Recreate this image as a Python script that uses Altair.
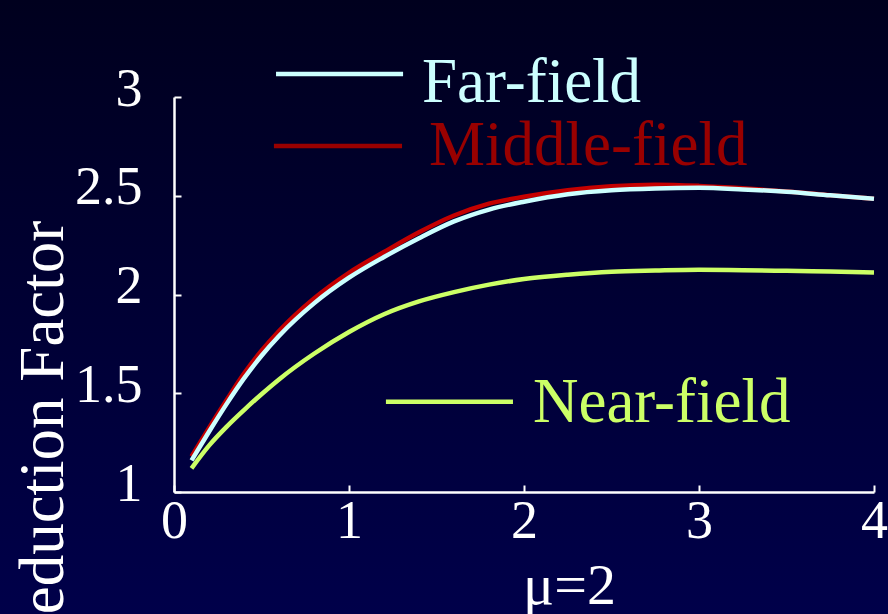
import altair as alt
import pandas as pd

# Reduction factor versus distance, mu = 2
MU = [0.1, 0.2, 0.3, 0.4, 0.5, 0.6, 0.8, 1.0, 1.2, 1.4, 1.6, 1.8, 2.0,
      2.25, 2.5, 2.75, 3.0, 3.25, 3.5, 3.75, 4.0]
FAR_FIELD = [1.16, 1.305, 1.445, 1.575, 1.69, 1.79, 1.955, 2.085, 2.19, 2.285,
             2.37, 2.43, 2.47, 2.508, 2.528, 2.537, 2.54, 2.532, 2.52, 2.502, 2.485]
MIDDLE_FIELD = [1.18, 1.325, 1.465, 1.60, 1.715, 1.815, 1.98, 2.11, 2.215, 2.315,
                2.40, 2.46, 2.495, 2.528, 2.548, 2.556, 2.55, 2.538, 2.522, 2.503, 2.485]
NEAR_FIELD = [1.12, 1.235, 1.33, 1.415, 1.495, 1.57, 1.70, 1.81, 1.90, 1.965,
              2.012, 2.05, 2.078, 2.10, 2.115, 2.121, 2.125, 2.123, 2.12, 2.116, 2.112]

SERIES = ["Far-field", "Middle-field", "Near-field"]
VALUES = {"Far-field": FAR_FIELD, "Middle-field": MIDDLE_FIELD, "Near-field": NEAR_FIELD}

# styling
CURVE_COLORS = {"Far-field": "#ccffff", "Middle-field": "#c40000", "Near-field": "#ccff66"}
KEY_COLORS = {"Far-field": "#ccffff", "Middle-field": "#990000", "Near-field": "#ccff66"}
DRAW_ORDER = ["Near-field", "Middle-field", "Far-field"]
SERIF = "Liberation Serif"

# key placement (in data units): stroke from x1 to x2 at y_line, label at (x_text, y_text)
KEY = {
    "Far-field":    dict(x1=0.583, x2=1.309, y_line=3.116, x_text=1.417, y_text=2.976),
    "Middle-field": dict(x1=0.571, x2=1.303, y_line=2.752, x_text=1.457, y_text=2.656),
    "Near-field":   dict(x1=1.211, x2=1.937, y_line=1.457, x_text=2.051, y_text=1.356),
}

curves = pd.DataFrame(
    [{"series": s, "mu": m, "factor": v, "hex": CURVE_COLORS[s]}
     for s in SERIES for m, v in zip(MU, VALUES[s])]
)
key = pd.DataFrame([{"series": s, "hex": KEY_COLORS[s], **KEY[s]} for s in SERIES])

x_scale = alt.Scale(domain=[0, 4], nice=False, zero=False)
y_scale = alt.Scale(domain=[1, 3], nice=False, zero=False)

x_axis = alt.Axis(
    title="μ=2",
    values=[0, 0.5, 1, 1.5, 2, 2.5, 3, 3.5, 4],
    labelExpr="datum.value % 1 === 0 ? datum.label : ''",
    format="d",
    grid=False, zindex=1,
    domainColor="white", domainWidth=2.5,
    tickColor="white", tickWidth=2, tickSize={"expr": "-7"},
    labelFont=SERIF, labelFontSize=54, labelColor="white",
    labelBaseline="alphabetic", labelPadding=52,
    labelFlush=False, labelOverlap=False, labelBound=False,
    titleFont=SERIF, titleFontSize=58, titleFontWeight="normal", titleColor="white",
    titleX=395, titleY=111, titleAlign="center", titleBaseline="alphabetic",
)
y_axis = alt.Axis(
    title="Reduction Factor",
    values=[1, 1.5, 2, 2.5, 3],
    format="~g",
    grid=False, zindex=1,
    domainColor="white", domainWidth=2.5,
    tickColor="white", tickWidth=2, tickSize={"expr": "-7"},
    labelFont=SERIF, labelFontSize=54, labelColor="white",
    labelBaseline="alphabetic", labelOffset=8, labelPadding=39,
    labelFlush=False, labelOverlap=False, labelBound=False,
    titleFont=SERIF, titleFontSize=63, titleFontWeight="normal", titleColor="white",
    titleAngle=270, titleX=-112, titleY=341, titleAlign="center", titleBaseline="alphabetic",
)

# full-canvas backdrop, dark navy fading lighter toward the bottom
backdrop = alt.Chart(alt.Data(values=[{}])).mark_rect(
    fill=alt.Gradient(
        gradient="linear",
        stops=[alt.GradientStop(color="#00001e", offset=0),
               alt.GradientStop(color="#00004a", offset=1)],
        x1=0, x2=0, y1=0, y2=1,
    )
).encode(x=alt.value(-174), x2=alt.value(714), y=alt.value(-97), y2=alt.value(517))

layers = [backdrop]
for s in DRAW_ORDER:
    layers.append(
        alt.Chart(curves).transform_filter(alt.datum.series == s)
        .mark_line(strokeWidth=4.5, interpolate="monotone")
        .encode(
            x=alt.X("mu:Q", scale=x_scale, axis=x_axis),
            y=alt.Y("factor:Q", scale=y_scale, axis=y_axis),
            color=alt.Color("hex:N", scale=None),
            order=alt.Order("mu:Q"),
        )
    )

key_strokes = alt.Chart(key).mark_rule(strokeWidth=4.5).encode(
    x=alt.X("x1:Q", scale=x_scale, axis=x_axis),
    x2="x2:Q",
    y=alt.Y("y_line:Q", scale=y_scale, axis=y_axis),
    color=alt.Color("hex:N", scale=None),
)
key_labels = alt.Chart(key).mark_text(
    font=SERIF, fontSize=63, align="left", baseline="alphabetic"
).encode(
    x=alt.X("x_text:Q", scale=x_scale, axis=x_axis),
    y=alt.Y("y_text:Q", scale=y_scale, axis=y_axis),
    text="series:N",
    color=alt.Color("hex:N", scale=None),
)
layers += [key_strokes, key_labels]

chart = (
    alt.layer(*layers)
    .properties(
        width=700, height=395,
        padding={"left": 174, "top": 97, "right": 14, "bottom": 122},
        autosize=alt.AutoSizeParams(type="none"),
    )
    .configure(background="#000033")
    .configure_view(stroke=None)
)

chart.save("out.html", embed_options={"renderer": "svg", "actions": False})
